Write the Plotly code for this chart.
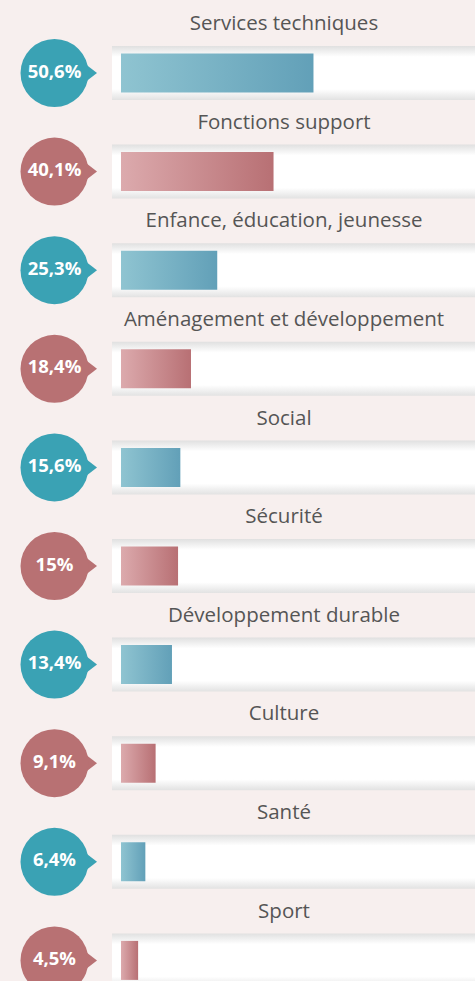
import plotly.graph_objects as go

categories = ["Services techniques", "Fonctions support", "Enfance, éducation, jeunesse",
              "Aménagement et développement", "Social", "Sécurité",
              "Développement durable", "Culture", "Santé", "Sport"]
values = [50.6, 40.1, 25.3, 18.4, 15.6, 15, 13.4, 9.1, 6.4, 4.5]
pct_labels = [f"{v:g}".replace(".", ",") + "%" for v in values]

BG = "#f7efee"
TEAL = "#3aa2b4"
PINK = "#b87173"
TEAL_GRAD = [[0, "#8fc4d1"], [1, "#62a0b8"]]
PINK_GRAD = [[0, "#dcaaad"], [1, "#b87074"]]
TRACK_GRAD = [[0, "#e2e2e2"], [0.2, "#ffffff"], [0.8, "#ffffff"], [1, "#e0e0e0"]]

W, H = 475, 981
PX_PER_UNIT = 3.804      # px per percent
X0_PX = 121              # pixel of value 0
ROW0_PX = 73             # pixel of first row centre
ROW_PX = 98.6            # row pitch in px

def xu(px):
    return (px - X0_PX) / PX_PER_UNIT

def yu(px):
    return px / ROW_PX

x_range = [xu(0), xu(W)]
y_range = [(H - ROW0_PX) / ROW_PX, -ROW0_PX / ROW_PX]

track_h = yu(27)
bar_h = yu(19.5)
track_x0 = xu(112)
track_x1 = xu(W + 40)

fig = go.Figure()

for i, (cat, v) in enumerate(zip(categories, values)):
    teal = i % 2 == 0
    # track
    fig.add_trace(go.Scatter(
        x=[track_x0, track_x1, track_x1, track_x0, track_x0],
        y=[i - track_h, i - track_h, i + track_h, i + track_h, i - track_h],
        mode="lines", line=dict(width=0), fill="toself",
        fillgradient=dict(type="vertical", colorscale=TRACK_GRAD),
        hoverinfo="skip", showlegend=False))
    # bar
    fig.add_trace(go.Scatter(
        x=[0, v, v, 0, 0],
        y=[i - bar_h, i - bar_h, i + bar_h, i + bar_h, i - bar_h],
        mode="lines", line=dict(width=0), fill="toself",
        fillgradient=dict(type="horizontal", colorscale=TEAL_GRAD if teal else PINK_GRAD),
        hoverinfo="skip", showlegend=False))

rows = list(range(len(categories)))
circle_colors = [TEAL if i % 2 == 0 else PINK for i in rows]

# pointer
fig.add_trace(go.Scatter(
    x=[xu(89)] * len(rows), y=rows, mode="markers",
    marker=dict(symbol="triangle-right", size=16, color=circle_colors, line=dict(width=0)),
    hoverinfo="skip", showlegend=False))
# circles
fig.add_trace(go.Scatter(
    x=[xu(54.5)] * len(rows), y=rows, mode="markers+text",
    marker=dict(symbol="circle", size=68, color=circle_colors, line=dict(width=0)),
    text=[f"<b>{t}</b>" for t in pct_labels], textposition="middle center",
    textfont=dict(family="Open Sans", size=18.5, color="white"),
    hoverinfo="skip", showlegend=False))
# category labels
fig.add_trace(go.Scatter(
    x=[xu(284)] * len(rows), y=[r - yu(48) for r in rows], mode="text",
    text=categories, textposition="middle center",
    textfont=dict(family="Open Sans", size=20.5, color="#555555"),
    hoverinfo="skip", showlegend=False))

fig.update_layout(
    width=W, height=H, margin=dict(l=0, r=0, t=0, b=0),
    paper_bgcolor=BG, plot_bgcolor=BG,
    xaxis=dict(range=x_range, visible=False, fixedrange=True),
    yaxis=dict(range=y_range, visible=False, fixedrange=True),
    showlegend=False,
)

fig.write_html(
    "out.html",
    config={"displayModeBar": False},
    post_script="document.body.style.margin='0';document.body.style.overflow='hidden';"
                "document.body.style.background='" + BG + "';",
)
